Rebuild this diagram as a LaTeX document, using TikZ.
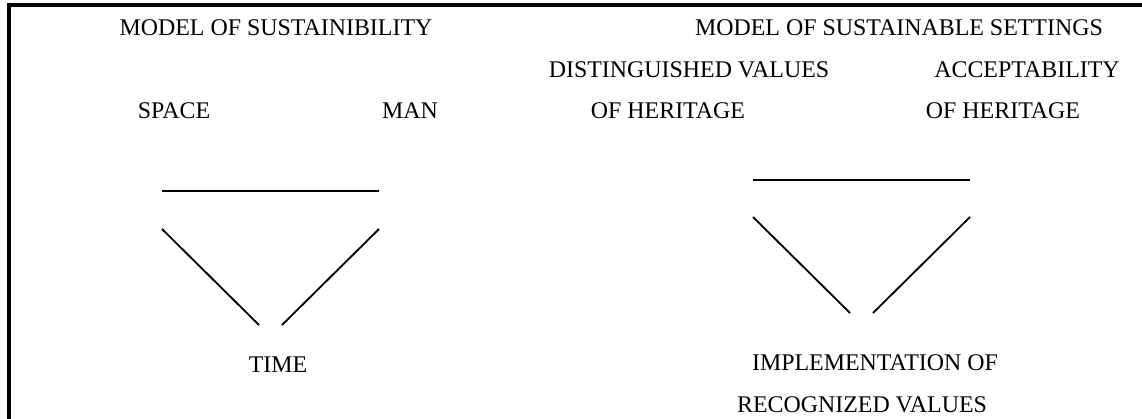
\documentclass[tikz,border=0pt]{standalone}
\usepackage{fontspec}
\setmainfont{Liberation Serif}
\begin{document}
\begin{tikzpicture}[x=0.025cm, y=-0.025cm, line width=1.3pt]
    \tikzset{lbl/.style={inner sep=0pt, font=\fontsize{17}{20}\selectfont}}

    \useasboundingbox (0, 0) rectangle (1142, 419);
    \draw [line width=2.2pt] (1142, 5) -- (9, 5) -- (9, 419);

    \node [lbl] (sust) at (276, 28) {MODEL OF SUSTAINIBILITY};
    \node [lbl] (space) at (174, 111) {SPACE};
    \node [lbl] (man) at (410, 111) {MAN};
    \node [lbl] (time) at (278, 365) {TIME};

    \node [lbl] (sett) at (899, 28) {MODEL OF SUSTAINABLE SETTINGS};
    \node [lbl] (dist) at (689, 70) {DISTINGUISHED VALUES};
    \node [lbl] (distb) at (668, 111) {OF HERITAGE};
    \node [lbl] (acc) at (1027, 70) {ACCEPTABILITY};
    \node [lbl] (accb) at (1003, 111) {OF HERITAGE};
    \node [lbl] (impl) at (875, 363) {IMPLEMENTATION OF};
    \node [lbl] (impb) at (862, 405) {RECOGNIZED VALUES};

    \coordinate (L1) at (162, 191);
    \coordinate (L2) at (379, 191);
    \coordinate (L3) at (162, 229);
    \coordinate (L4) at (259, 325);
    \coordinate (L5) at (282, 325);
    \coordinate (L6) at (379, 229);

    \coordinate (R1) at (753, 180);
    \coordinate (R2) at (970, 180);
    \coordinate (R3) at (753, 217);
    \coordinate (R4) at (850, 313);
    \coordinate (R5) at (873, 313);
    \coordinate (R6) at (970, 217);

    \foreach \side in {L, R} {
        \draw (\side1) -- (\side2);
        \draw (\side3) -- (\side4);
        \draw (\side5) -- (\side6);
    }
\end{tikzpicture}
\end{document}
